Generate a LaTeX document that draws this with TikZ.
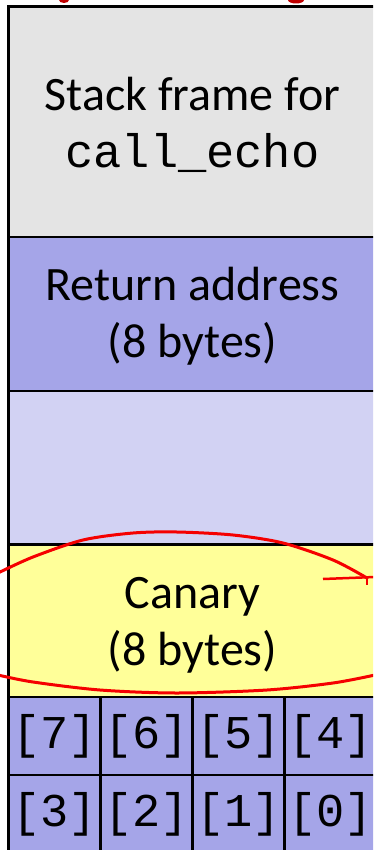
\documentclass[tikz,border=0pt]{standalone}
\usepackage{fontspec}
\setmainfont{Carlito}
\setmonofont{Liberation Mono}
\definecolor{framegray}{RGB}{228,228,228}
\definecolor{retblue}{RGB}{165,165,232}
\definecolor{lightblue}{RGB}{210,210,243}
\definecolor{canaryyellow}{RGB}{255,255,153}
\definecolor{inkred}{RGB}{245,0,0}
\definecolor{titlered}{RGB}{192,0,0}
\begin{document}
\begin{tikzpicture}[x=1pt,y=-1pt,
  boxline/.style={draw=black,line width=2.5pt},
  lbl/.style={align=center,inner sep=0pt,font=\fontsize{48}{57}\selectfont},
  celllbl/.style={inner sep=0pt,font=\fontsize{47}{57}\selectfont\ttfamily},
  ink/.style={draw=inkred,line width=3pt,line cap=round,line join=round}]
\useasboundingbox (0,0) rectangle (373,850);
\clip (0,0) rectangle (373,850);
% fills
\fill[framegray] (8.5,6.5) rectangle (376.5,237);
\fill[retblue] (8.5,237) rectangle (376.5,391);
\fill[lightblue] (8.5,391) rectangle (376.5,544.5);
\fill[canaryyellow] (8.5,544.5) rectangle (376.5,697);
\fill[retblue] (8.5,697) rectangle (376.5,853);
% lines
\draw[boxline] (8.5,237) -- (376.5,237);
\draw[boxline] (8.5,391) -- (376.5,391);
\draw[boxline] (8.5,544.5) -- (376.5,544.5);
\draw[boxline] (8.5,697) -- (376.5,697);
\draw[boxline] (8.5,775) -- (376.5,775);
\draw[boxline] (100.5,697) -- (100.5,853);
\draw[boxline] (192.5,697) -- (192.5,853);
\draw[boxline] (284.5,697) -- (284.5,853);
\draw[draw=black,line width=3pt] (8.5,853) -- (8.5,6.5) -- (376.5,6.5) -- (376.5,853);
% texts
\node[lbl] (frame) at (192.5,125) {Stack frame for\\\fontsize{47}{57}\selectfont\texttt{call\_echo}};
\node[lbl] (ret) at (192.5,316) {Return address\\(8 bytes)};
\node[lbl] (canary) at (192.5,625) {Canary\\(8 bytes)};
\node[celllbl] (c7) at (54.5,736) {[7]};
\node[celllbl] (c6) at (146.5,736) {[6]};
\node[celllbl] (c5) at (238.5,736) {[5]};
\node[celllbl] (c4) at (330.5,736) {[4]};
\node[celllbl] (c3) at (54.5,814) {[3]};
\node[celllbl] (c2) at (146.5,814) {[2]};
\node[celllbl] (c1) at (238.5,814) {[1]};
\node[celllbl] (c0) at (330.5,814) {[0]};
% remnants of red title
\fill[titlered] (64,0) ellipse (5 and 3);
\fill[titlered] (296,0) ellipse (8 and 3.5);
% hand-drawn red ellipse
\draw[ink] plot[smooth] coordinates {(-2,573) (33,557) (83,540) (133,533) (177,532) (233,535) (283,543) (333,560) (367,578)};
\draw[ink] plot[smooth] coordinates {(-2,675) (33,682) (100,690) (177,693) (267,690) (333,683) (375,675)};
\draw[draw=inkred,line width=2.5pt] (323,579) -- (375,577);
\draw[draw=inkred,line width=2pt] (367,577) -- (367,585);
\end{tikzpicture}
\end{document}
